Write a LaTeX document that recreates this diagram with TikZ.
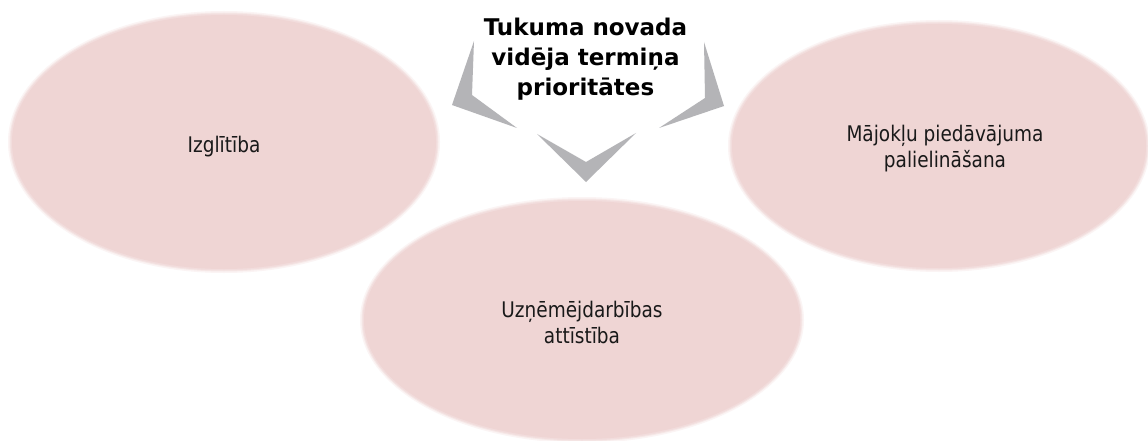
\documentclass[tikz,border=0pt]{standalone}
\usepackage{fontspec}
\setmainfont{DejaVu Sans}[FakeStretch=0.86]
\newfontfamily\titlefont{DejaVu Sans}
\usetikzlibrary{shapes.geometric}
\definecolor{pinkfill}{RGB}{239,213,212}
\definecolor{arrowgray}{RGB}{180,180,183}
\definecolor{txt}{RGB}{25,25,25}
\begin{document}
\begin{tikzpicture}[x=1pt,y=-1pt,
  blob/.style={ellipse, fill=pinkfill, inner sep=0pt, draw=none},
  haloA/.style={ellipse, fill=pinkfill!25, inner sep=0pt, draw=none},
  haloB/.style={ellipse, fill=pinkfill!55, inner sep=0pt, draw=none},
  haloC/.style={ellipse, fill=pinkfill!80, inner sep=0pt, draw=none},
  lbl/.style={font=\fontsize{21.5}{26}\selectfont, align=center, inner sep=0pt, text=txt},
  ttl/.style={font=\titlefont\bfseries\fontsize{23}{30}\selectfont, align=center, inner sep=0pt, text=black},
  chev/.style={fill=arrowgray, draw=none}]
\useasboundingbox[fill=white] (0,0) rectangle (1148,441);
% soft edges
\node[haloA, minimum width=432pt, minimum height=262pt] (a1) at (224,142) {};
\node[haloA, minimum width=422pt, minimum height=252pt] (a2) at (939,146) {};
\node[haloA, minimum width=444pt, minimum height=246pt] (a3) at (582,320) {};
\node[haloB, minimum width=429pt, minimum height=259pt] (b1) at (224,142) {};
\node[haloB, minimum width=419pt, minimum height=249pt] (b2) at (939,146) {};
\node[haloB, minimum width=441pt, minimum height=243pt] (b3) at (582,320) {};
\node[haloC, minimum width=427pt, minimum height=257pt] (c1) at (224,142) {};
\node[haloC, minimum width=417pt, minimum height=247pt] (c2) at (939,146) {};
\node[haloC, minimum width=439pt, minimum height=241pt] (c3) at (582,320) {};
% ellipses
\node[blob, minimum width=424pt, minimum height=254pt] (e1) at (224,142) {};
\node[blob, minimum width=414pt, minimum height=244pt] (e2) at (939,146) {};
\node[blob, minimum width=436pt, minimum height=238pt] (e3) at (582,320) {};
% chevrons
\fill[chev] (474,41) -- (452,105) -- (517,128) -- (472,95) -- cycle;
\fill[chev] (704,42) -- (724,106) -- (659,128) -- (705,98) -- cycle;
\fill[chev] (537,134) -- (586,182) -- (636,133) -- (586,162) -- cycle;
% texts
\node[ttl, anchor=north] (title) at (585.5,18) {Tukuma novada\\vidēja termiņa\\prioritātes};
\node[lbl, anchor=base] (t1) at (224,152) {Izglītība};
\node[lbl, anchor=north] (t2) at (945,125) {Mājokļu piedāvājuma\\palielināšana};
\node[lbl, anchor=north] (t3) at (582,301) {Uzņēmējdarbības\\attīstība};
\end{tikzpicture}
\end{document}
